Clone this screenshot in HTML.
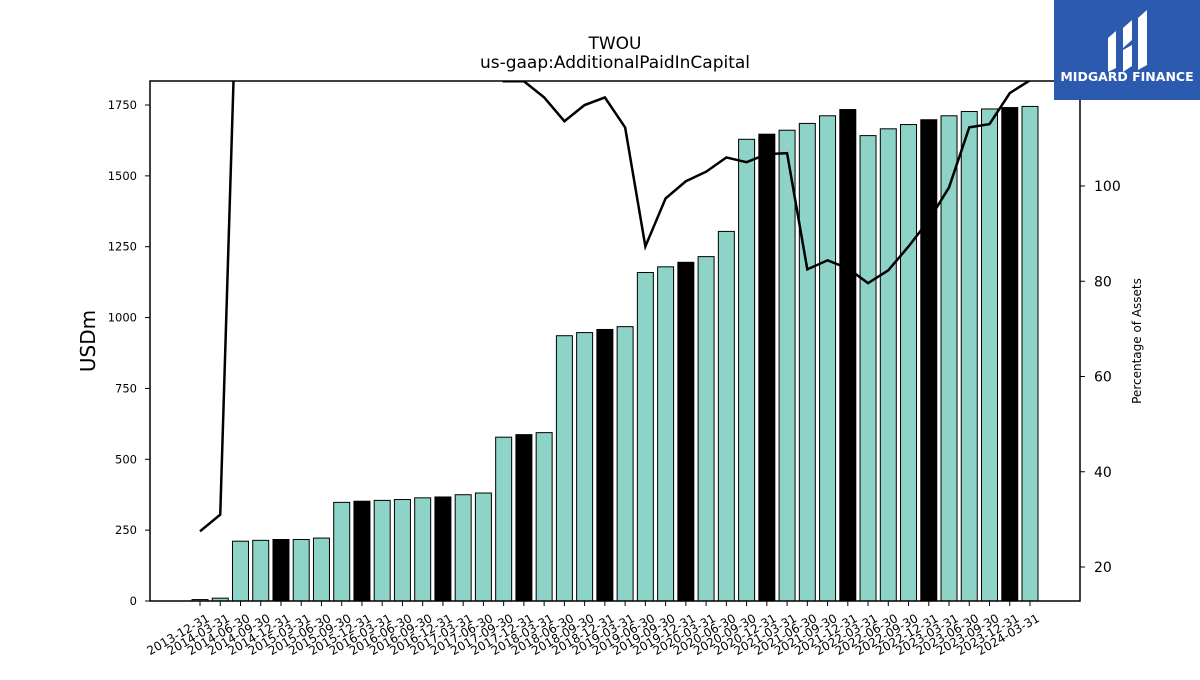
<!DOCTYPE html>
<html><head><meta charset="utf-8"><style>
body{margin:0;background:#fff;}
svg text{font-family:"DejaVu Sans","Liberation Sans",sans-serif;}
</style></head><body>
<svg width="1200" height="675" xmlns="http://www.w3.org/2000/svg">
<rect width="1200" height="675" fill="#fff"/>
<text x="615" y="49" font-size="17" text-anchor="middle">TWOU</text>
<text x="615" y="68" font-size="17" text-anchor="middle">us-gaap:AdditionalPaidInCapital</text>
<g id="bars"></g>
<g id="lineg"></g>
<g id="xticks"></g>
<g id="yticks"></g>
<g id="rticks"></g>
<rect x="150" y="81" width="930" height="520" fill="none" stroke="#000" stroke-width="1.5"/>
<text transform="translate(95,341) rotate(-90)" font-size="20" text-anchor="middle">USDm</text>
<text transform="translate(1141,341) rotate(-90)" font-size="12" text-anchor="middle">Percentage of Assets</text>
<g>
<rect x="1054" y="0" width="146" height="100" fill="#2c5aae"/>
<path d="M1108 38 L1116 31 L1116 68 L1108 72 Z" fill="#fff"/>
<path d="M1123 28 L1132 20 L1132 40 L1123 48 Z" fill="#fff"/>
<path d="M1123 50 L1132 45 L1132 66 L1123 72 Z" fill="#fff"/>
<path d="M1138 18 L1147 10 L1147 65 L1138 70 Z" fill="#fff"/>
<text x="1127" y="81" font-size="12.5" font-weight="bold" fill="#fff" text-anchor="middle">MIDGARD FINANCE</text>
</g>
</svg>
<script>
const categories=["2013-12-31","2014-03-31","2014-06-30","2014-09-30","2014-12-31","2015-03-31","2015-06-30","2015-09-30","2015-12-31","2016-03-31","2016-06-30","2016-09-30","2016-12-31","2017-03-31","2017-06-30","2017-09-30","2017-12-31","2018-03-31","2018-06-30","2018-09-30","2018-12-31","2019-03-31","2019-06-30","2019-09-30","2019-12-31","2020-03-31","2020-06-30","2020-09-30","2020-12-31","2021-03-31","2021-06-30","2021-09-30","2021-12-31","2022-03-31","2022-06-30","2022-09-30","2022-12-31","2023-03-31","2023-06-30","2023-09-30","2023-12-31","2024-03-31"];
const apic=[5,10,211,214,217,217,222,348,352,355,358,364,367,375,381,578,587,594,936,947,958,968,1159,1179,1195,1215,1304,1629,1647,1661,1685,1712,1734,1642,1666,1681,1698,1712,1727,1736,1741,1745];
const pctAssets=[27.5,31,170,170,170,170,170,170,170,170,170,170,170,170,170,122,122,118.6,113.6,117,118.6,112.3,87.3,97.4,101,103,106,105,106.7,106.9,82.5,84.4,82.7,79.6,82.3,87.3,92.8,99.7,112.3,113,119.5,122.2];
const leftTicks=[0,250,500,750,1000,1250,1500,1750];
const rightTicks=[20,40,60,80,100];
const NS="http://www.w3.org/2000/svg";
function mk(t,a,p){const e=document.createElementNS(NS,t);for(const k in a)e.setAttribute(k,a[k]);p.appendChild(e);return e;}
const X=i=>200+i*(1030-200)/41;
const Y=v=>601-v*496/1750;
const Y2=v=>567-(v-20)*381/80;
const bars=document.getElementById('bars');
apic.forEach((v,i)=>{
 const r=mk('rect',{x:X(i)-8,y:Y(v),width:16,height:601-Y(v),fill:(i%4===0&&i>0)?'#000':'#8dd3c7',stroke:'#000','stroke-width':1},bars);
 
 
});
const lg=document.getElementById('lineg');
const clip=mk('clipPath',{id:'pc'},lg);mk('rect',{x:150,y:81,width:930,height:520},clip);
const pl=mk('polyline',{points:pctAssets.map((v,i)=>X(i)+','+Y2(v)).join(' '),fill:'none',stroke:'#000','stroke-width':2.5,'clip-path':'url(#pc)'},lg);


const xt=document.getElementById('xticks');
categories.forEach((c,i)=>{
 mk('line',{x1:X(i),x2:X(i),y1:601,y2:606,stroke:'#000','stroke-width':1},xt);
 const t=mk('text',{transform:`translate(${X(i)+6},${613}) rotate(-30)`,'font-size':12,'text-anchor':'end','dominant-baseline':'hanging'},xt);
 
 
 t.textContent=c;
});
const yt=document.getElementById('yticks');
leftTicks.forEach(v=>{
 mk('line',{x1:145,x2:150,y1:Y(v),y2:Y(v),stroke:'#000'},yt);
 const t=mk('text',{x:137,y:Y(v)+4,'font-size':11.5,'text-anchor':'end'},yt);
 
 
 t.textContent=v;
});
const rt=document.getElementById('rticks');
rightTicks.forEach(v=>{
 mk('line',{x1:1080,x2:1085,y1:Y2(v),y2:Y2(v),stroke:'#000'},rt);
 const t=mk('text',{x:1094,y:Y2(v)+5,'font-size':14},rt);
 
 
 t.textContent=v;
});
</script>
</body></html>
